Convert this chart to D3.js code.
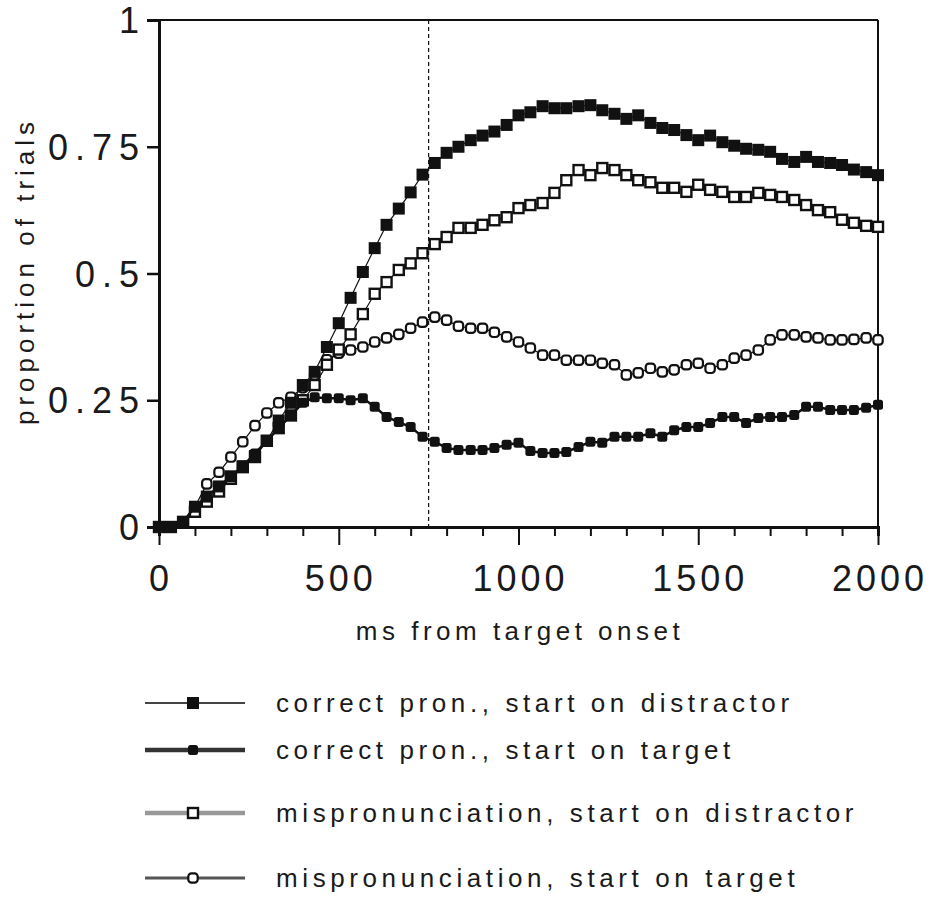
<!DOCTYPE html>
<html>
<head>
<meta charset="utf-8">
<script src="https://cdn.jsdelivr.net/npm/d3@7"></script>
<style>
  body { margin: 0; background: #fff; }
  text { font-family: "Liberation Sans", Arial, sans-serif; fill: #1a1a1a; }
</style>
</head>
<body>
<svg id="chart" width="928" height="899"></svg>
<script>
// sample times (ms), one sample per video frame
var times = [0, 33, 67, 100, 133, 167, 200, 233, 267, 300,
    333, 367, 400, 433, 467, 500, 533, 567, 600, 633,
    667, 700, 733, 767, 800, 833, 867, 900, 933, 967,
    1000, 1033, 1067, 1100, 1133, 1167, 1200, 1233, 1267, 1300,
    1333, 1367, 1400, 1433, 1467, 1500, 1533, 1567, 1600, 1633,
    1667, 1700, 1733, 1767, 1800, 1833, 1867, 1900, 1933, 1967, 2000];

// correct pron., start on distractor
var correctDistractor = [0, 0, 0.01, 0.04, 0.06, 0.08, 0.10, 0.12, 0.14, 0.17,
    0.21, 0.245, 0.28, 0.306, 0.355, 0.402, 0.452, 0.503, 0.55, 0.596,
    0.628, 0.66, 0.695, 0.718, 0.738, 0.75, 0.763, 0.772, 0.78, 0.793,
    0.812, 0.818, 0.83, 0.826, 0.826, 0.83, 0.832, 0.822, 0.815, 0.805,
    0.812, 0.797, 0.787, 0.783, 0.773, 0.763, 0.772, 0.759, 0.752, 0.746,
    0.744, 0.74, 0.726, 0.72, 0.73, 0.72, 0.718, 0.714, 0.705, 0.70, 0.694];

// correct pron., start on target
var correctTarget = [0, 0, 0.01, 0.04, 0.06, 0.08, 0.10, 0.12, 0.145, 0.17,
    0.195, 0.22, 0.245, 0.256, 0.254, 0.254, 0.25, 0.254, 0.237, 0.217,
    0.207, 0.197, 0.178, 0.168, 0.156, 0.152, 0.152, 0.152, 0.156, 0.162,
    0.166, 0.15, 0.146, 0.146, 0.148, 0.158, 0.168, 0.166, 0.178, 0.178,
    0.178, 0.185, 0.178, 0.191, 0.197, 0.197, 0.205, 0.217, 0.217, 0.205,
    0.215, 0.217, 0.217, 0.221, 0.237, 0.237, 0.231, 0.231, 0.231, 0.235, 0.241];

// mispronunciation, start on distractor
var misDistractor = [0, 0, 0.01, 0.03, 0.05, 0.07, 0.095, 0.118, 0.138, 0.17,
    0.195, 0.22, 0.25, 0.28, 0.32, 0.35, 0.38, 0.42, 0.46, 0.483,
    0.507, 0.52, 0.54, 0.558, 0.572, 0.59, 0.59, 0.596, 0.605, 0.611,
    0.629, 0.635, 0.639, 0.659, 0.684, 0.704, 0.694, 0.708, 0.704, 0.694,
    0.684, 0.68, 0.669, 0.669, 0.661, 0.675, 0.665, 0.661, 0.651, 0.651,
    0.659, 0.655, 0.651, 0.645, 0.635, 0.625, 0.621, 0.606, 0.60, 0.594, 0.592];

// mispronunciation, start on target
var misTarget = [0, 0, 0.01, 0.04, 0.085, 0.108, 0.138, 0.168, 0.20, 0.225,
    0.245, 0.256, 0.275, 0.30, 0.33, 0.343, 0.349, 0.355, 0.365, 0.373,
    0.38, 0.392, 0.404, 0.414, 0.408, 0.396, 0.392, 0.392, 0.384, 0.375,
    0.365, 0.353, 0.339, 0.339, 0.329, 0.329, 0.329, 0.323, 0.32, 0.30,
    0.304, 0.313, 0.306, 0.31, 0.32, 0.323, 0.313, 0.32, 0.333, 0.339,
    0.349, 0.369, 0.379, 0.379, 0.375, 0.373, 0.369, 0.369, 0.37, 0.373, 0.369];

var yTicks = [0, 0.25, 0.5, 0.75, 1];
var yTickLabels = ["0", "0.25", "0.5", "0.75", "1"];
var xTicks = [0, 500, 1000, 1500, 2000];
var cutoff = 750;

var seriesNames = ["correct pron., start on distractor",
    "correct pron., start on target",
    "mispronunciation, start on distractor",
    "mispronunciation, start on target"];

var svg = d3.select("#chart");

var plotLeft = 159, plotRight = 878, plotTop = 20, plotBottom = 527;

var x = d3.scaleLinear().domain([0, 2000]).range([plotLeft, plotRight]);
var y = d3.scaleLinear().domain([0, 1]).range([plotBottom, plotTop]);

var series = [
    { name: seriesNames[0], values: correctDistractor, marker: "bigsquare", lw: 1.2 },
    { name: seriesNames[1], values: correctTarget, marker: "dot", lw: 2.5 },
    { name: seriesNames[2], values: misDistractor, marker: "opensquare", lw: 1.2 },
    { name: seriesNames[3], values: misTarget, marker: "opencircle", lw: 1.2 }
];

// frame: top and right borders
svg.append("line")
    .attr("x1", plotLeft).attr("x2", plotRight)
    .attr("y1", plotTop).attr("y2", plotTop)
    .attr("stroke", "#111").attr("stroke-width", 2);
svg.append("line")
    .attr("x1", plotRight).attr("x2", plotRight)
    .attr("y1", plotTop).attr("y2", plotBottom)
    .attr("stroke", "#111").attr("stroke-width", 2);

// cutoff line
svg.append("line")
    .attr("x1", x(cutoff)).attr("x2", x(cutoff))
    .attr("y1", plotTop).attr("y2", plotBottom)
    .attr("stroke", "#111").attr("stroke-width", 1.2)
    .attr("stroke-dasharray", "4,3");

// x axis, minor ticks every 100 ms
var xAxis = d3.axisBottom(x)
    .tickValues(d3.range(0, 2001, 100))
    .tickSize(9)
    .tickFormat("");
var gx = svg.append("g")
    .attr("transform", "translate(0," + plotBottom + ")")
    .call(xAxis);
gx.selectAll(".tick line")
    .attr("stroke", "#111").attr("stroke-width", 2)
    .attr("y2", function (d) { return d % 500 == 0 ? 18 : 9; });
gx.select(".domain").attr("stroke", "#111").attr("stroke-width", 3);

svg.selectAll(".xlabel")
    .data(xTicks)
    .enter().append("text")
    .attr("class", "xlabel")
    .attr("x", function (d) { return x(d) + 2; })
    .attr("y", 591)
    .attr("text-anchor", "middle")
    .attr("font-size", 36)
    .attr("letter-spacing", 4)
    .text(function (d) { return d; });

// y axis
var yAxis = d3.axisLeft(y)
    .tickValues(yTicks)
    .tickSize(12)
    .tickFormat("");
var gy = svg.append("g")
    .attr("transform", "translate(" + plotLeft + ",0)")
    .call(yAxis);
gy.selectAll(".tick line").attr("stroke", "#111").attr("stroke-width", 2.5);
gy.select(".domain").attr("stroke", "#111").attr("stroke-width", 3);

svg.selectAll(".ylabel")
    .data(yTicks)
    .enter().append("text")
    .attr("class", "ylabel")
    .attr("x", 146)
    .attr("y", function (d) { return y(d) + 13; })
    .attr("text-anchor", "end")
    .attr("font-size", 36)
    .attr("letter-spacing", 7)
    .text(function (d, i) { return yTickLabels[i]; });

// axis titles
svg.append("text")
    .attr("x", 520).attr("y", 640)
    .attr("text-anchor", "middle")
    .attr("font-size", 26)
    .attr("letter-spacing", 4.5)
    .text("ms from target onset");

svg.append("text")
    .attr("transform", "translate(34,271) rotate(-90)")
    .attr("text-anchor", "middle")
    .attr("font-size", 26)
    .attr("letter-spacing", 5)
    .text("proportion of trials");

function drawMarker(g, type, cx, cy) {
    if (type == "bigsquare") {
        g.append("rect")
            .attr("x", cx - 6).attr("y", cy - 6)
            .attr("width", 12).attr("height", 12)
            .attr("fill", "#111");
    }
    else if (type == "dot") {
        g.append("rect")
            .attr("x", cx - 5).attr("y", cy - 5)
            .attr("width", 10).attr("height", 10)
            .attr("rx", 2.5)
            .attr("fill", "#111");
    }
    else if (type == "opensquare") {
        g.append("rect")
            .attr("x", cx - 5).attr("y", cy - 5)
            .attr("width", 10).attr("height", 10)
            .attr("fill", "#fff").attr("stroke", "#111").attr("stroke-width", 2.4);
    }
    else if (type == "opencircle") {
        g.append("rect")
            .attr("x", cx - 4.7).attr("y", cy - 4.7)
            .attr("width", 9.4).attr("height", 9.4)
            .attr("rx", 3.2)
            .attr("fill", "#fff").attr("stroke", "#111").attr("stroke-width", 2.2);
    }
}

var line = d3.line()
    .x(function (d, i) { return x(times[i]); })
    .y(function (d) { return y(d); });

// draw from back to front
[3, 2, 1, 0].forEach(function (k) {
    var s = series[k];
    var g = svg.append("g").attr("class", "series");
    g.append("path")
        .attr("d", line(s.values))
        .attr("fill", "none")
        .attr("stroke", "#111")
        .attr("stroke-width", s.lw);
    s.values.forEach(function (v, i) {
        drawMarker(g, s.marker, x(times[i]), y(v));
    });
});

// legend
var legendY = [703, 750, 813, 878];
var legendStroke = ["#444", "#333", "#999", "#555"];
var legendWidth = [2, 4.5, 4.5, 3];
var lg = svg.append("g").attr("class", "legend");
series.forEach(function (s, i) {
    var ly = legendY[i];
    lg.append("line")
        .attr("x1", 145).attr("x2", 245)
        .attr("y1", ly).attr("y2", ly)
        .attr("stroke", legendStroke[i])
        .attr("stroke-width", legendWidth[i]);
    drawMarker(lg, s.marker, 193, ly);
    lg.append("text")
        .attr("x", 276).attr("y", ly + 9)
        .attr("font-size", 26)
        .attr("letter-spacing", 4.6)
        .text(s.name);
});
</script>
</body>
</html>
